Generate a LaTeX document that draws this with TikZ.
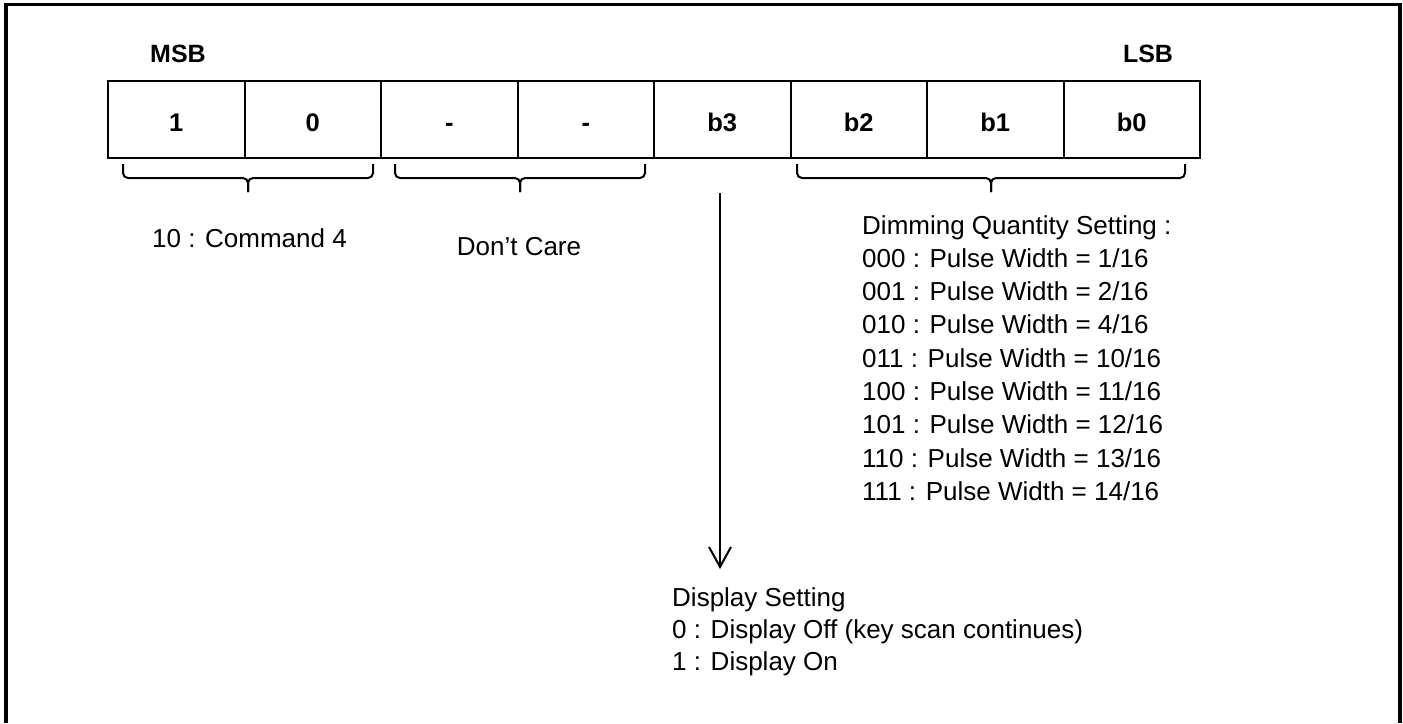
\documentclass[tikz,border=0pt]{standalone}
\usepackage{fontspec}
\setmainfont{Liberation Sans}
\usetikzlibrary{arrows.meta}
\begin{document}
\begin{tikzpicture}[x=1pt,y=-1pt,
  cell/.style={draw, line width=2pt, minimum width=136.5pt, minimum height=77pt, inner sep=0pt, text height=23pt, text depth=0pt, anchor=north west, font=\fontsize{25.5}{30}\selectfont\bfseries},
  lbl/.style={inner sep=0pt, font=\fontsize{25}{30}\selectfont\bfseries},
  txt/.style={inner sep=0pt, anchor=base west, font=\fontsize{26}{33}\selectfont},
  bracepath/.style={line width=2pt, rounded corners=5pt},
  frame/.style={line width=3.5pt}]
\useasboundingbox (0,0) rectangle (1403,723);
% outer frame (open at bottom)
\draw[frame] (6,723) -- (6,4.5) -- (1400,4.5) -- (1400,723);
% labels
\node[lbl, anchor=base] (msb) at (178,62) {MSB};
\node[lbl, anchor=base] (lsb) at (1148,62) {LSB};
% cells
\node[cell] (c7) at (107,80) {1};
\node[cell] (c6) at (243.5,80) {0};
\node[cell] (c5) at (380,80) {-};
\node[cell] (c4) at (516.5,80) {-};
\node[cell] (c3) at (653,80) {b3};
\node[cell] (c2) at (789.5,80) {b2};
\node[cell] (c1) at (926,80) {b1};
\node[cell] (c0) at (1062.5,80) {b0};
% braces
\coordinate (aL) at (123,164); \coordinate (aR) at (373,164);
\coordinate (aM) at (248,178); \coordinate (aT) at (248,192);
\draw[bracepath] (aL) |- (aM) -- (aT);
\draw[bracepath] (aR) |- (aM) -- (aT);
\coordinate (bL) at (395,164); \coordinate (bR) at (645,164);
\coordinate (bM) at (520,178); \coordinate (bT) at (520,192);
\draw[bracepath] (bL) |- (bM) -- (bT);
\draw[bracepath] (bR) |- (bM) -- (bT);
\coordinate (cL) at (797,164); \coordinate (cR) at (1185,164);
\coordinate (cM) at (991,178); \coordinate (cT) at (991,192);
\draw[bracepath] (cL) |- (cM) -- (cT);
\draw[bracepath] (cR) |- (cM) -- (cT);
% arrow
\coordinate (arS) at (720,193);
\coordinate (arE) at (720,569);
\draw[line width=2pt, -{Straight Barb[length=20pt,width=22pt]}] (arS) -- (arE);
% texts
\node[txt] (cmd) at (152,247) {10 : Command 4};
\node[txt, anchor=base] (dc) at (519,255) {Don’t Care};
\node[txt] (q0) at (862,234) {Dimming Quantity Setting :};
\node[txt] (q1) at (862,267.3) {000 : Pulse Width = 1/16};
\node[txt] (q2) at (862,300.6) {001 : Pulse Width = 2/16};
\node[txt] (q3) at (862,333.9) {010 : Pulse Width = 4/16};
\node[txt] (q4) at (862,367.2) {011 : Pulse Width = 10/16};
\node[txt] (q5) at (862,400.5) {100 : Pulse Width = 11/16};
\node[txt] (q6) at (862,433.8) {101 : Pulse Width = 12/16};
\node[txt] (q7) at (862,467.1) {110 : Pulse Width = 13/16};
\node[txt] (q8) at (862,500.4) {111 : Pulse Width = 14/16};
\node[txt] (s0) at (672,606) {Display Setting};
\node[txt] (s1) at (672,638) {0 : Display Off (key scan continues)};
\node[txt] (s2) at (672,670) {1 : Display On};
\end{tikzpicture}
\end{document}
